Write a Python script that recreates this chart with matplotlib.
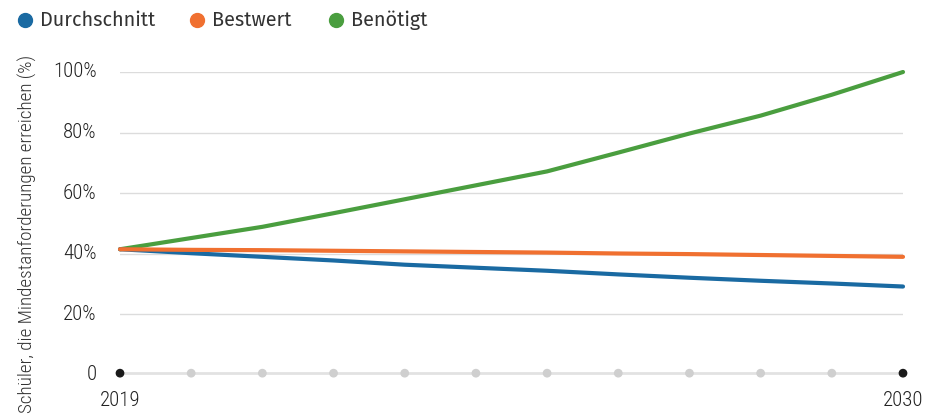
import matplotlib.pyplot as plt
from matplotlib import font_manager
from matplotlib.lines import Line2D

# Anteil der Schüler, die die Mindestanforderungen erreichen (%)
jahre = list(range(2019, 2031))
durchschnitt = [41.5, 40.2, 39.0, 37.8, 36.4, 35.4, 34.4, 33.2, 32.1, 31.1, 30.2, 29.2]
bestwert = [41.5, 41.3, 41.2, 41.0, 40.8, 40.6, 40.4, 40.1, 39.9, 39.6, 39.3, 39.0]
benoetigt = [41.5, 45.2, 48.9, 53.4, 58.0, 62.6, 67.2, 73.4, 79.7, 85.6, 92.5, 100.0]
reihen = ['Durchschnitt', 'Bestwert', 'Benötigt']
y_ticks = [0, 20, 40, 60, 80, 100]
y_labels = ['0', '20%', '40%', '60%', '80%', '100%']

blau = '#1a6aa2'
orange = '#f07030'
gruen = '#4a9e3f'


def erste_schrift(kandidaten):
    installiert = {f.name for f in font_manager.fontManager.ttflist}
    for k in kandidaten:
        if k in installiert:
            return k
    return 'DejaVu Sans'


schmal = erste_schrift(['Roboto Condensed', 'Barlow Condensed', 'Archivo Narrow', 'PT Sans Narrow'])
normal = erste_schrift(['Fira Sans', 'Ubuntu', 'Noto Sans'])

W, H = 936, 417
fig = plt.figure(figsize=(W / 100, H / 100), dpi=100)
ax = fig.add_axes([120 / W, (H - 375) / H, (903 - 120) / W, (375 - 72) / H])

ax.plot(jahre, benoetigt, color=gruen, lw=3, solid_capstyle='round', clip_on=False, zorder=3)
ax.plot(jahre, durchschnitt, color=blau, lw=3, solid_capstyle='round', clip_on=False, zorder=4)
ax.plot(jahre, bestwert, color=orange, lw=3, solid_capstyle='round', clip_on=False, zorder=5)

ax.set_xlim(2019, 2030)
ax.set_ylim(0, 100)
ax.set_yticks(y_ticks[1:])
ax.yaxis.grid(True, color='#dcdcdc', lw=1)
ax.set_yticklabels([])
ax.tick_params(length=0)
for s in ax.spines.values():
    s.set_visible(False)

for y, lab in zip(y_ticks, y_labels):
    ax.text(-0.03, y, lab, transform=ax.get_yaxis_transform(), ha='right', va='center',
            fontsize=15, family=schmal, weight='light', color='#222222')

# x-Achse mit Punkten
ax.axhline(0.6, color='#e2e2e2', lw=2, zorder=1, clip_on=False)
farben = ['#1a1a1a' if j in (jahre[0], jahre[-1]) else '#cfcfcf' for j in jahre]
ax.scatter(jahre, [0.6] * len(jahre), s=28, c=farben, zorder=2, clip_on=False)
ax.set_xticks([])
for j in (jahre[0], jahre[-1]):
    ax.text(j, -8.5, str(j), ha='center', va='center', fontsize=15, family=schmal,
            weight='light', color='#222222')

fig.text(27 / W, (H - 234) / H, 'Schüler, die Mindestanforderungen erreichen (%)', rotation=90,
         ha='center', va='center', fontsize=13.8, family=schmal, weight='light', color='#333333')

# Legende von Hand gesetzt
for x, name, c in zip([25, 197, 336], reihen, [blau, orange, gruen]):
    fig.add_artist(Line2D([x / W], [(H - 20) / H], marker='o', ls='', color=c,
                          markersize=10, transform=fig.transFigure))
    fig.text((x + 15) / W, (H - 20) / H, name, ha='left', va='center',
             fontsize=14.3, family=normal, color='#333333')

fig.savefig('out.png', dpi=100)
